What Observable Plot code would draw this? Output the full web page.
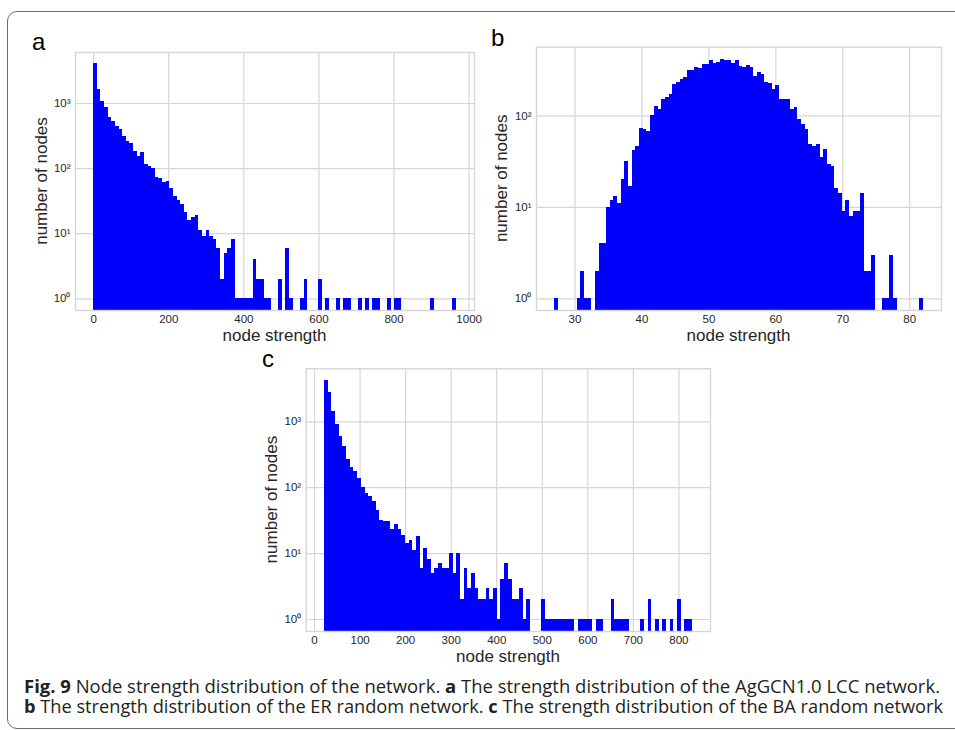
<!DOCTYPE html>
<html><head><meta charset="utf-8">
<script src="https://cdn.jsdelivr.net/npm/d3@7"></script>
<script src="https://cdn.jsdelivr.net/npm/@observablehq/plot@0.6"></script>
<style>
body{margin:0;background:#fff;}
#root{position:relative;width:955px;height:730px;overflow:hidden;background:#fff;}
.frame{position:absolute;left:7px;top:11px;width:990px;height:718px;border:1.3px solid #6a6a6a;border-radius:10px;box-sizing:border-box;}
.plot{position:absolute;}
#overlay{position:absolute;left:0;top:0;}
</style></head>
<body>
<div id="root">
  <div class="frame"></div>
  <div id="pa" class="plot" style="left:0px;top:0px"></div>
  <div id="pb" class="plot" style="left:480px;top:0px"></div>
  <div id="pc" class="plot" style="left:250px;top:345px"></div>
  <svg id="overlay" width="955" height="730">
    <g font-family="Liberation Sans, Arial, sans-serif" fill="#262626" font-size="17">
      <text x="274.5" y="335" text-anchor="middle" dominant-baseline="central">node strength</text>
      <text x="738.5" y="335" text-anchor="middle" dominant-baseline="central">node strength</text>
      <text x="508" y="656.5" text-anchor="middle" dominant-baseline="central">node strength</text>
      <text transform="translate(41.7,181) rotate(-90)" text-anchor="middle" dominant-baseline="central">number of nodes</text>
      <text transform="translate(501.7,178.3) rotate(-90)" text-anchor="middle" dominant-baseline="central">number of nodes</text>
      <text transform="translate(271.7,499.6) rotate(-90)" text-anchor="middle" dominant-baseline="central">number of nodes</text>
    </g>
    <g font-family="Liberation Sans, Arial, sans-serif" fill="#000" font-size="24">
      <text x="32" y="50">a</text>
      <text x="491" y="46">b</text>
      <text x="262" y="367">c</text>
    </g>
    <g font-family="Open Sans, sans-serif" font-size="17.5" fill="#231f20" style="white-space:pre">
      <text x="24" y="692.7" textLength="916" lengthAdjust="spacingAndGlyphs"><tspan font-weight="bold">Fig. 9</tspan>  Node strength distribution of the network. <tspan font-weight="bold">a</tspan> The strength distribution of the AgGCN1.0 LCC network.</text>
      <text x="24" y="712.7" textLength="919" lengthAdjust="spacingAndGlyphs"><tspan font-weight="bold">b</tspan> The strength distribution of the ER random network. <tspan font-weight="bold">c</tspan> The strength distribution of the BA random network</text>
    </g>
  </svg>
</div>
<script>
// ---- Panel a: AgGCN1.0 LCC network (100 bins) ----
const aBinStart = 0;
const aBinWidth = 9.66;
const aCounts = [4100,1640,1070,860,605,526,444,398,314,257,
  243,185,156,174,115,108,102,73,70,62,
  64,49,37,32,28,21,16,18,19,11,
  9,11,9,8,6,2,5,6,8,1,
  1,1,1,1,4,2,2,1,1,0,
  0,2,0,6,1,0,0,1,2,0,
  0,0,2,0,1,0,0,1,0,1,
  1,0,0,1,0,1,0,1,1,0,
  0,1,0,1,1,0,0,0,0,0,
  0,0,0,1,0,0,0,0,0,1];
const aXTicks = [0,200,400,600,800,1000];
const aYTicks = [1,10,100,1000];

// ---- Panel b: ER random network (100 bins) ----
const bBinStart = 27;
const bBinWidth = 0.55;
const bCounts = [1,0,0,0,0,0,1,2,1,1,
  0,2,4,4,10,12,13,11,20,32,
  17,42,46,72,71,68,101,126,118,151,
  160,171,218,233,252,264,313,313,335,329,
  364,364,400,370,386,410,400,404,370,400,
  349,340,352,335,269,298,283,233,227,194,
  214,151,151,151,118,122,91,80,70,49,
  46,49,35,43,29,28,16,14,9,12,
  8,9,9,14,2,2,3,0,0,1,
  1,3,1,0,0,0,0,0,0,1];
const bXTicks = [30,40,50,60,70,80];
const bYTicks = [1,10,100];

// ---- Panel c: BA random network (100 bins) ----
const cBinStart = 22;
const cBinWidth = 8.07;
const cCounts = [4235,2785,1432,911,598,427,268,203,176,136,
  100,83,73,62,45,32,31,31,23,28,
  23,19,14,16,11,18,6,12,8,5,
  6,7,6,6,10,5,10,2,6,3,
  5,3,2,2,3,2,3,1,4,7,
  4,2,2,3,1,2,0,0,0,2,
  1,1,1,1,1,1,1,1,0,1,
  1,1,1,0,1,1,0,0,2,1,
  1,1,1,0,0,0,1,0,2,0,
  1,0,1,0,1,0,2,0,1,1];
const cXTicks = [0,100,200,300,400,500,600,700,800];
const cYTicks = [1,10,100,1000];

const supMap = {"0":"⁰","1":"¹","2":"²","3":"³","4":"⁴"};
const supFmt = v => "10" + supMap[String(Math.round(Math.log10(v)))];
const numFmt = v => String(v);

const gridColor = "#d6d6d6";
const textColor = "#262626";

function hist(counts, start, width, cfg) {
  const data = counts.map((c, i) => ({x1: start + i * width, x2: start + (i + 1) * width, c}))
                     .filter(d => d.c > 0);
  return Plot.plot({
    width: cfg.w, height: cfg.h,
    marginLeft: cfg.ml, marginRight: cfg.mr, marginTop: cfg.mt, marginBottom: cfg.mb,
    style: "background: transparent; overflow: visible; font-family: 'Liberation Sans', Arial, sans-serif;",
    x: {domain: cfg.xd},
    y: {type: "log", domain: cfg.yd},
    marks: [
      Plot.gridX(cfg.xt, {stroke: gridColor, strokeOpacity: 1, strokeWidth: 1.2}),
      Plot.gridY(cfg.yt, {stroke: gridColor, strokeOpacity: 1, strokeWidth: 1.2}),
      Plot.rectY(data, {x1: "x1", x2: "x2", y1: cfg.yd[0], y2: "c", fill: "#0000ff", inset: 0, shapeRendering: "crispEdges"}),
      Plot.frame({stroke: gridColor, strokeWidth: 1.4}),
      Plot.axisX(cfg.xt, {tickSize: 0, tickPadding: 4, label: null, fontSize: 11.5, fill: textColor, tickFormat: numFmt}),
      Plot.axisY(cfg.yt, {tickSize: 0, tickPadding: 5, label: null, fontSize: 11.5, fill: textColor, tickFormat: supFmt})
    ]
  });
}

document.getElementById("pa").appendChild(hist(aCounts, aBinStart, aBinWidth, {
  w: 490, h: 350, ml: 75, mr: 16, mt: 52, mb: 40,
  xd: [-48.3, 1014.3], yd: [Math.pow(10, -0.18), Math.pow(10, 3.783)], xt: aXTicks, yt: aYTicks
}));
document.getElementById("pb").appendChild(hist(bCounts, bBinStart, bBinWidth, {
  w: 475, h: 350, ml: 56, mr: 14, mt: 46.7, mb: 40,
  xd: [24.25, 84.75], yd: [Math.pow(10, -0.128), Math.pow(10, 2.75)], xt: bXTicks, yt: bYTicks
}));
document.getElementById("pc").appendChild(hist(cCounts, cBinStart, cBinWidth, {
  w: 470, h: 310, ml: 55.7, mr: 10, mt: 23.3, mb: 24,
  xd: [-18.35, 869.35], yd: [Math.pow(10, -0.182), Math.pow(10, 3.804)], xt: cXTicks, yt: cYTicks
}));
</script>
</body></html>
